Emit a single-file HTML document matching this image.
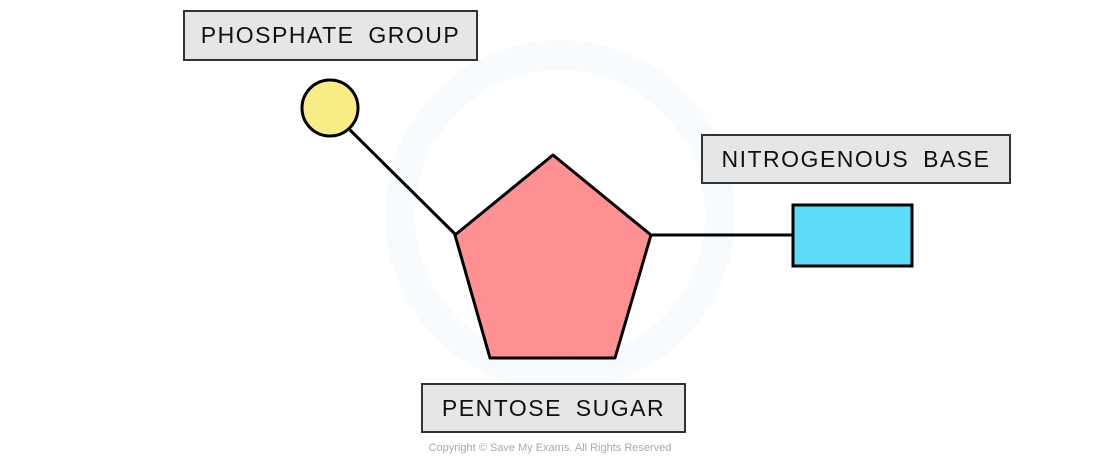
<!DOCTYPE html>
<html><head><style>
body{margin:0;background:#fff;}
.lbl{position:absolute;background:#e5e6e7;border:2px solid #333;box-sizing:border-box;font-family:"Liberation Sans",sans-serif;font-size:23px;letter-spacing:1.5px;word-spacing:6px;color:#111;display:flex;align-items:center;justify-content:center;}
</style></head><body>
<div style="position:relative;width:1100px;height:459px;overflow:hidden">
<svg width="1100" height="459" style="position:absolute;left:0;top:0">
<circle cx="560" cy="215" r="160" fill="none" stroke="#f8fbfd" stroke-width="30"/>
<line x1="350" y1="130" x2="456" y2="235" stroke="#000" stroke-width="3"/>
<line x1="651" y1="235" x2="794" y2="235" stroke="#000" stroke-width="3"/>
<polygon points="553,155 651,235 615,358 490,358 455,235" fill="#fe9094" stroke="#000" stroke-width="3" stroke-linejoin="round"/>
<circle cx="330" cy="108" r="28" fill="#f8ec85" stroke="#000" stroke-width="3"/>
<rect x="793" y="205" width="119" height="61" fill="#5fdcfa" stroke="#000" stroke-width="3"/>
<text x="550" y="451" text-anchor="middle" font-family="Liberation Sans,sans-serif" font-size="11" fill="#aaa">Copyright © Save My Exams. All Rights Reserved</text>
</svg>
<div class="lbl" style="left:183px;top:10px;width:295px;height:51px">PHOSPHATE GROUP</div>
<div class="lbl" style="left:701px;top:134px;width:310px;height:50px">NITROGENOUS BASE</div>
<div class="lbl" style="left:421px;top:383px;width:265px;height:50px">PENTOSE SUGAR</div>
</div>
</body></html>
